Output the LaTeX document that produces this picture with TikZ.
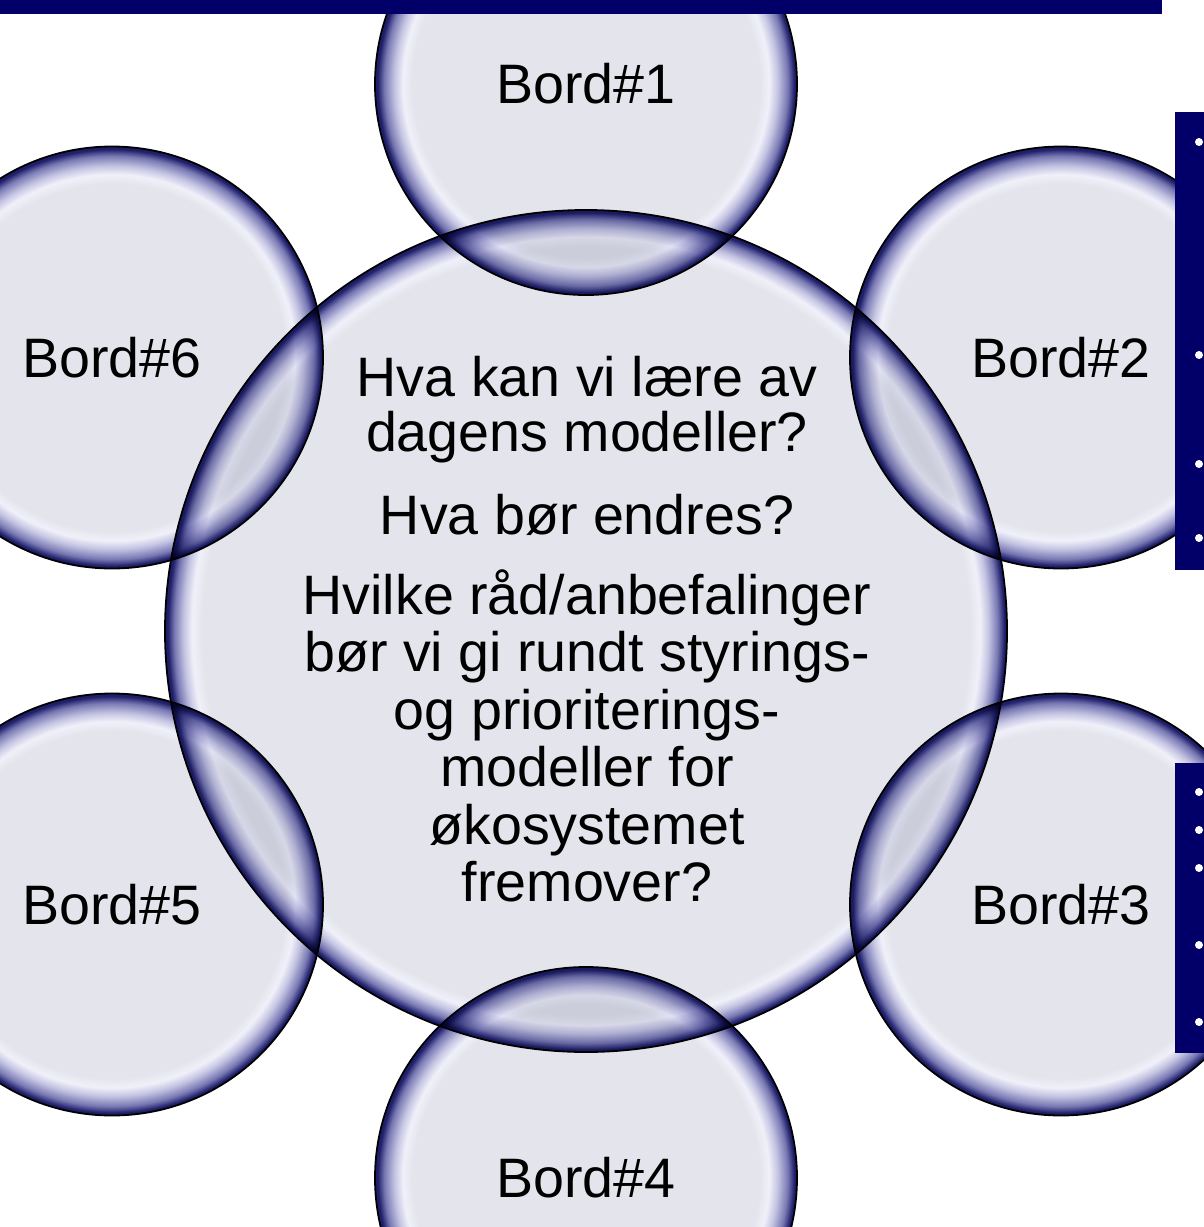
\documentclass[tikz,border=0pt]{standalone}
\usepackage{fontspec}
\setmainfont{Liberation Sans}
\definecolor{cg}{RGB}{228,229,236}
\definecolor{chl}{RGB}{240,240,250}
\definecolor{clt}{RGB}{196,196,226}
\definecolor{cmid}{RGB}{120,120,180}
\definecolor{cnv}{RGB}{30,30,105}
\definecolor{barnavy}{RGB}{2,0,104}
\pgfdeclareradialshading{glassS}{\pgfpoint{0bp}{0bp}}{color(0bp)=(cg); color(20.6bp)=(cg); color(21.7bp)=(chl); color(22.7bp)=(clt); color(23.9bp)=(cmid); color(24.7bp)=(cnv); color(25bp)=(cnv); color(50bp)=(cnv)}
\pgfdeclareradialshading{glassL}{\pgfpoint{0bp}{0bp}}{color(0bp)=(cg); color(22.8bp)=(cg); color(23.4bp)=(chl); color(23.9bp)=(clt); color(24.45bp)=(cmid); color(24.85bp)=(cnv); color(25bp)=(cnv); color(50bp)=(cnv)}
\tikzset{
  smallc/.style={circle, minimum size=422pt, inner sep=0pt, shading=glassS, draw=black, line width=1.8pt},
  bigc/.style={circle, minimum size=842pt, inner sep=0pt, shading=glassL, draw=black, line width=1.8pt},
  lbl/.style={anchor=base, inner sep=0pt, font=\fontsize{55.6}{57}\selectfont},
  bar/.style={fill=barnavy, draw=none},
  bullet/.style={circle, fill=white, inner sep=0pt, minimum size=8pt}
}
\begin{document}
\begin{tikzpicture}[x=1pt,y=-1pt]
\useasboundingbox (0,0) rectangle (1203,1227);
\fill[white] (0,0) rectangle (1203,1227);
\begin{scope}[blend group=multiply]
  \node[bigc] (c0) at (586,631) {};
  \node[smallc] (c1) at (586,84) {};
  \node[smallc] (c2) at (1061,357.5) {};
  \node[smallc] (c3) at (1061,904.5) {};
  \node[smallc] (c4) at (586,1178) {};
  \node[smallc] (c5) at (112,904.5) {};
  \node[smallc] (c6) at (112,357.5) {};
\end{scope}
% top bar
\node[bar, anchor=north west, minimum width=1162pt, minimum height=14pt, inner sep=0pt] (topbar) at (0,0) {};
% right bars
\node[bar, anchor=north west, minimum width=40pt, minimum height=458pt, inner sep=0pt] (rbar1) at (1175,112) {};
\node[bar, anchor=north west, minimum width=40pt, minimum height=290pt, inner sep=0pt] (rbar2) at (1175,763) {};
\foreach \y [count=\i] in {142,355,464,538} \node[bullet] (ba\i) at (1199,\y) {};
\foreach \y [count=\i] in {792,830,868,945,1022} \node[bullet] (bb\i) at (1199,\y) {};
% labels
\node[lbl] (t1) at (586,103.5) {Bord\#1};
\node[lbl] (t2) at (1061,377) {Bord\#2};
\node[lbl] (t3) at (1061,924) {Bord\#3};
\node[lbl] (t4) at (586,1197.5) {Bord\#4};
\node[lbl] (t5) at (112,924) {Bord\#5};
\node[lbl] (t6) at (112,377) {Bord\#6};
% center text
\node[lbl] (q1a) at (587,396) {Hva kan vi lære av};
\node[lbl] (q1b) at (587,451) {dagens modeller?};
\node[lbl] (q2) at (587,534) {Hva bør endres?};
\node[lbl] (q3a) at (587,614) {Hvilke råd/anbefalinger};
\node[lbl] (q3b) at (587,671.5) {bør vi gi rundt styrings-};
\node[lbl] (q3c) at (587,729) {og prioriterings-};
\node[lbl] (q3d) at (587,786.5) {modeller for};
\node[lbl] (q3e) at (587,844) {økosystemet};
\node[lbl] (q3f) at (587,901.5) {fremover?};
\end{tikzpicture}
\end{document}
